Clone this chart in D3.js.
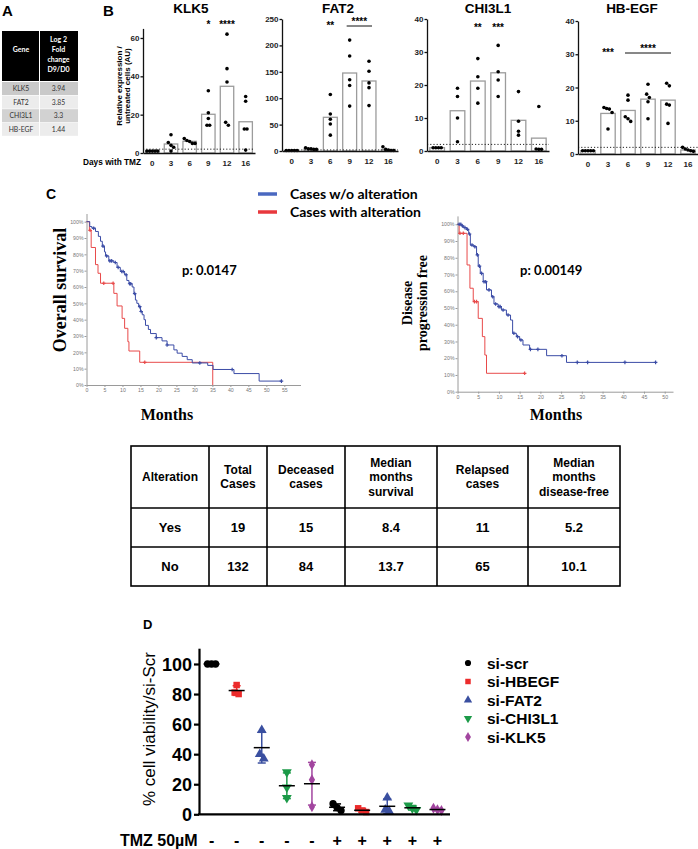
<!DOCTYPE html>
<html>
<head>
<meta charset="utf-8">
<script src="https://cdn.jsdelivr.net/npm/d3@7"></script>
<style>
  body { margin: 0; background: #fff; }
  svg { display: block; }
</style>
</head>
<body>
<svg id="fig" width="698" height="849"></svg>
<script>
// ---- panel A
const geneNames = ['KLK5', 'FAT2', 'CHI3L1', 'HB-EGF'];
const log2Fold = ['3.94', '3.85', '3.3', '1.44'];

// ---- panel B
const days = ['0', '3', '6', '9', '12', '16'];
const klk5Mean = [1, 4.7, 6.1, 20.2, 34.8, 16.3];
const klk5Reps = [[1, 1, 1, 1, 1], [9.5, 5.5, 4, 3, 1], [7.5, 6.5, 6, 5, 5], [32.5, 21, 18, 14.5, 14.5], [62, 44, 37, 16, 14.5], [29.5, 27, 12.5, 12.5, 1.5]];
const fat2Mean = [1, 4, 63.8, 147.7, 132.6, 3];
const fat2Reps = [[1, 1, 1, 1, 1], [6, 4, 3, 3, 4], [107, 70, 60, 51, 30], [210, 180, 135, 124, 85], [170, 151, 129, 120, 86], [8, 3, 2, 1, 1]];
const chi3l1Mean = [1, 12.2, 21.2, 23.7, 9.3, 3.9];
const chi3l1Reps = [[1, 1, 1, 1], [19, 16.5, 10, 2.8], [28, 22.5, 19, 14.5], [32, 24, 21.5, 16.5], [18, 9, 6, 4.8], [13.5, 0.6, 0.5, 0.5]];
const hbegfMean = [1, 12.2, 13.1, 16.5, 16.2, 1.2];
const hbegfReps = [[1, 1, 1, 1, 1], [14, 13.5, 13.7, 12.5, 7.5], [17.7, 16.2, 11.2, 9.8, 10.6], [21, 18, 17, 15.7, 10.6], [21.3, 20.5, 15, 14.7, 9.2], [2, 1.5, 1, 0.8, 1.2]];
const klk5Sig = [{ from: '9', to: '9', label: '*' }, { from: '12', to: '12', label: '****' }];
const fat2Sig = [{ from: '6', to: '6', label: '**' }, { from: '9', to: '12', label: '****' }];
const chi3l1Sig = [{ from: '6', to: '6', label: '**' }, { from: '9', to: '9', label: '***' }];
const hbegfSig = [{ from: '3', to: '3', label: '***' }, { from: '6', to: '12', label: '****' }];

// ---- panel C (months, % surviving)
const osNoAlt = [[0, 100], [0.9, 97], [1.5, 96], [2.5, 94], [3.3, 91], [3.9, 88], [4.4, 85], [5, 81.5], [5.3, 79], [6.2, 76], [7.6, 75], [8.5, 72], [9.4, 69.5], [10.6, 67.5], [11.2, 64], [11.8, 62], [12.7, 60], [13.2, 56], [13.6, 52], [14, 50], [14.5, 48], [15, 45], [15.5, 43], [16, 40], [16.4, 36.5], [17.2, 34], [17.8, 31.5], [19.4, 29], [21, 27], [22.4, 24.5], [24.3, 21.5], [25.2, 19.5], [26.6, 17.5], [28, 15.5], [29.4, 13.5], [33.7, 12], [35.2, 9.5], [41, 7], [48, 2.4], [54.2, 2.4]];
const osNoAltCensor = [2, 4.6, 5.6, 6.5, 7, 8, 8.8, 9.8, 10.2, 11, 12, 12.3, 13.4, 14.8, 15.2, 19.4, 22.4, 31.5, 40.5, 54.2];
const osAlt = [[0, 100], [0.8, 94.7], [1.3, 84.2], [2.5, 73.7], [3.2, 68.4], [3.9, 62.3], [7.6, 56.1], [8.5, 48.4], [9.9, 40.8], [10.6, 34.7], [11.5, 26.5], [11.8, 20.8], [14.8, 13.9], [35.1, 0]];
const osAltCensor = [1.0, 4.8, 7.4, 16.2];
const dfsNoAlt = [[0, 100], [1, 99], [1.5, 98], [2.2, 97], [2.7, 94.2], [3.1, 87.6], [4, 86.6], [4.6, 81.7], [5, 75], [5.5, 70.7], [6.2, 65.7], [7, 60.8], [8.2, 56.7], [8.8, 52.4], [9.8, 50.8], [10.6, 48.8], [11.8, 45.8], [12.8, 42.8], [13.3, 34.9], [14.2, 32.9], [15, 30.9], [15.8, 27.9], [17.4, 25.3], [21.5, 21.5], [26.3, 17.5], [47.8, 17.5]];
const dfsNoAltCensor = [0.4, 0.8, 1.2, 1.8, 2.4, 2.9, 3.5, 4.2, 4.8, 5.3, 5.8, 6.4, 6.8, 7.6, 8.5, 9.2, 10, 10.3, 11, 12.2, 13.6, 14.5, 15.3, 17.6, 19.4, 25.2, 28.9, 31.4, 40.4, 47.8];
const dfsAlt = [[0, 100], [0.4, 94.6], [2.3, 75.7], [3, 61.8], [3.8, 53.8], [5, 43.8], [6, 32.9], [6.6, 21.9], [7, 11], [16.2, 11]];
const dfsAltCensor = [0.6, 1.4, 4.1, 4.6, 16.2];
const tableHeader = [['Alteration'], ['Total', 'Cases'], ['Deceased', 'cases'], ['Median', 'months', 'survival'], ['Relapsed', 'cases'], ['Median', 'months', 'disease-free']];
const tableRows = [['Yes', '19', '15', '8.4', '11', '5.2'], ['No', '132', '84', '13.7', '65', '10.1']];

// ---- panel D
const siNames = ['si-scr', 'si-HBEGF', 'si-FAT2', 'si-CHI3L1', 'si-KLK5'];
const viabNoTmz = [[100, 100, 100], [86, 81, 80], [56, 40, 37], [28, 18, 11], [33, 23, 5]];
const viabTmz = [[7, 4.5, 2.5], [4, 2.5, 1.5], [11, 3, 2], [6, 4, 3], [4, 3, 2.5]];
const tmzLabels = ['-', '-', '-', '-', '-', '+', '+', '+', '+', '+'];
const yTicksD = [0, 20, 40, 60, 80, 100];

const svg = d3.select('#fig');
svg.append('rect').attr('width', 698).attr('height', 849).attr('fill', '#fff');

const SANS = '"Liberation Sans", Arial, sans-serif';
const CAL = 'Lato, "Open Sans", sans-serif';
const SERIF = '"Liberation Serif", "Times New Roman", serif';

const txt = (g, x, y, s, size, o = {}) => g.append('text')
  .attr('x', x).attr('y', y).text(s)
  .attr('font-family', o.family || SANS)
  .attr('font-size', size)
  .attr('font-weight', o.weight || 'bold')
  .attr('text-anchor', o.anchor || 'start')
  .attr('fill', o.fill || '#000')
  .attr('transform', o.rotate ? `rotate(-90,${x},${y})` : null);

// spread points with (nearly) equal y side by side, like a scatter column
function spread(vals, y, cx, gap, step) {
  const pts = vals.map(v => ({ py: y(v) })).sort((a, b) => a.py - b.py);
  const clusters = [];
  pts.forEach(p => {
    const last = clusters[clusters.length - 1];
    if (last && p.py - last[last.length - 1].py < gap) last.push(p);
    else clusters.push([p]);
  });
  clusters.forEach(cl => cl.forEach((p, k) => { p.px = cx + (k - (cl.length - 1) / 2) * step; }));
  return pts;
}

// ================= A
txt(svg, 2, 16, 'A', 15);
const gA = svg.append('g');
gA.append('rect').attr('x', 2).attr('y', 31).attr('width', 76).attr('height', 50).attr('fill', '#000');
gA.append('line').attr('x1', 39.5).attr('x2', 39.5).attr('y1', 31).attr('y2', 81).attr('stroke', '#fff').attr('stroke-width', 1);
txt(gA, 21, 52, 'Gene', 7, { family: CAL, anchor: 'middle', fill: '#fff' });
['Log 2', 'Fold', 'change', 'D9/D0'].forEach((s, i) =>
  txt(gA, 58.5, 42 + i * 10, s, 7, { family: CAL, anchor: 'middle', fill: '#fff' }));
const rowFill = ['#c9c9c9', '#ececec', '#d2d2d2', '#ececec'];
geneNames.forEach((gname, i) => {
  const y0 = 82 + i * 13.6;
  gA.append('rect').attr('x', 2).attr('y', y0).attr('width', 37).attr('height', 13).attr('fill', rowFill[i]);
  gA.append('rect').attr('x', 40).attr('y', y0).attr('width', 38).attr('height', 13).attr('fill', rowFill[i]);
  txt(gA, 21, y0 + 9, gname, 6.8, { family: CAL, anchor: 'middle', fill: '#333', weight: 'normal' });
  txt(gA, 58.5, y0 + 9, log2Fold[i], 6.8, { family: CAL, anchor: 'middle', fill: '#333', weight: 'normal' });
});

// ================= B
txt(svg, 103, 16, 'B', 15);
txt(svg, 83, 165, 'Days with TMZ', 8.3);
txt(svg, 121.5, 86, 'Relative expression /', 8, { anchor: 'middle', rotate: true });
txt(svg, 130, 86, 'untreated cells (AU)', 8, { anchor: 'middle', rotate: true });

function drawExpr(cfg) {
  const x = d3.scaleBand().domain(days).range(cfg.xr);
  const y = d3.scaleLinear().domain([0, cfg.yMax]).range(cfg.yr);
  const g = svg.append('g');
  const cx = d => x(d) + x.bandwidth() / 2;

  g.selectAll('rect').data(cfg.means).enter().append('rect')
    .attr('x', (d, i) => cx(days[i]) - x.bandwidth() * 0.36)
    .attr('width', x.bandwidth() * 0.72)
    .attr('y', d => y(d))
    .attr('height', d => y(0) - y(d))
    .attr('fill', '#fff').attr('stroke', '#9c9c9c').attr('stroke-width', 1.3);

  g.append('line')
    .attr('x1', cfg.xr[0]).attr('x2', cfg.xr[1])
    .attr('y1', y(2)).attr('y2', y(2))
    .attr('stroke', '#222').attr('stroke-width', 1).attr('stroke-dasharray', '1.2,2');

  cfg.reps.forEach((vals, i) => {
    const pts = spread(vals, y, cx(days[i]), 3.4, 2.7);
    g.selectAll(null).data(pts).enter().append('circle')
      .attr('cx', d => d.px).attr('cy', d => d.py).attr('r', 1.8).attr('fill', '#000');
  });

  const yAx = g.append('g').attr('transform', `translate(${cfg.xr[0]},0)`)
    .call(d3.axisLeft(y).tickValues(cfg.ticks).tickSize(2.5).tickSizeOuter(0).tickPadding(1));
  const xAx = g.append('g').attr('transform', `translate(0,${y(0)})`)
    .call(d3.axisBottom(x).tickSize(0).tickSizeOuter(0).tickPadding(7));
  [yAx, xAx].forEach(a => {
    a.attr('font-family', SANS).attr('font-size', 8).attr('font-weight', 'bold');
    a.selectAll('path, line').attr('stroke', '#111').attr('stroke-width', 1.3);
    a.selectAll('text').attr('fill', '#222');
  });

  cfg.sig.forEach(s => {
    const x0 = cx(s.from), x1 = cx(s.to);
    if (s.from !== s.to) {
      g.append('line').attr('x1', x0 - 3).attr('x2', x1 + 3)
        .attr('y1', cfg.sigY + 2).attr('y2', cfg.sigY + 2)
        .attr('stroke', '#111').attr('stroke-width', 1);
      txt(g, (x0 + x1) / 2, cfg.sigY + 1, s.label, 10, { anchor: 'middle' });
    } else {
      txt(g, x0, cfg.sigY + 5, s.label, 10, { anchor: 'middle' });
    }
  });

  txt(g, cfg.titleX, 13, cfg.title, 13.5, { anchor: 'middle' });
}

drawExpr({ title: 'KLK5', titleX: 191, means: klk5Mean, reps: klk5Reps, yMax: 65, ticks: [0, 20, 40, 60],
  xr: [143, 255], yr: [153, 28.4], sig: klk5Sig, sigY: 23 });
drawExpr({ title: 'FAT2', titleX: 338, means: fat2Mean, reps: fat2Reps, yMax: 250, ticks: [0, 50, 100, 150, 200, 250],
  xr: [282, 398], yr: [151, 19], sig: fat2Sig, sigY: 24 });
drawExpr({ title: 'CHI3L1', titleX: 488, means: chi3l1Mean, reps: chi3l1Reps, yMax: 40, ticks: [0, 10, 20, 30, 40],
  xr: [427, 549], yr: [151, 19], sig: chi3l1Sig, sigY: 26 });
drawExpr({ title: 'HB-EGF', titleX: 632, means: hbegfMean, reps: hbegfReps, yMax: 40, ticks: [0, 10, 20, 30, 40],
  xr: [578, 698], yr: [154, 21], sig: hbegfSig, sigY: 51 });

// ================= C
txt(svg, 46, 199, 'C', 14);
const legC = [['Cases w/o alteration', '#4a68c0'], ['Cases with alteration', '#e8383d']];
legC.forEach((d, i) => {
  const yy = 194 + i * 18;
  svg.append('line').attr('x1', 258).attr('x2', 277).attr('y1', yy).attr('y2', yy)
    .attr('stroke', d[1]).attr('stroke-width', 3.5);
  txt(svg, 290, yy + 5, d[0], 14, { family: CAL });
});

function drawKM(cfg) {
  const x = d3.scaleLinear().domain([0, cfg.xMax]).range(cfg.xr);
  const y = d3.scaleLinear().domain([0, 105]).range(cfg.yr);
  const g = svg.append('g');
  const yAx = g.append('g').attr('transform', `translate(${cfg.xr[0]},0)`)
    .call(d3.axisLeft(y).tickValues(d3.range(0, 101, 10)).tickFormat(d => d + '%').tickSize(2).tickSizeOuter(0).tickPadding(1));
  const xAx = g.append('g').attr('transform', `translate(0,${cfg.yr[0]})`)
    .call(d3.axisBottom(x).tickValues(cfg.xTicks).tickSize(2).tickSizeOuter(0).tickPadding(1.5));
  [yAx, xAx].forEach(a => {
    a.attr('font-family', SANS).attr('font-size', 5.2);
    a.selectAll('path, line').attr('stroke', '#9a9a9a');
    a.selectAll('text').attr('fill', '#777');
  });
  const line = d3.line().x(d => x(d[0])).y(d => y(d[1])).curve(d3.curveStepAfter);
  cfg.curves.forEach(c => {
    g.append('path').datum(c.steps).attr('d', line)
      .attr('fill', 'none').attr('stroke', c.color).attr('stroke-width', 1);
    const survAt = t => { let s = 100; c.steps.forEach(p => { if (p[0] <= t) s = p[1]; }); return s; };
    g.selectAll(null).data(c.censor).enter().append('path')
      .attr('d', t => `M${x(t) - 1.8},${y(survAt(t))}h3.6M${x(t)},${y(survAt(t)) - 1.8}v3.6`)
      .attr('stroke', c.color).attr('stroke-width', 1.2);
  });
}

drawKM({ xMax: 59.5, xr: [86.5, 300.5], yr: [385, 213.5], xTicks: d3.range(0, 56, 5), curves: [
  { steps: osAlt, censor: osAltCensor, color: '#e84a4a' },
  { steps: osNoAlt, censor: osNoAltCensor, color: '#3b4ca6' }
] });
drawKM({ xMax: 52, xr: [457.5, 673], yr: [391.7, 215.9], xTicks: d3.range(0, 51, 5), curves: [
  { steps: dfsAlt, censor: dfsAltCensor, color: '#e84a4a' },
  { steps: dfsNoAlt, censor: dfsNoAltCensor, color: '#3b4ca6' }
] });

txt(svg, 66, 290, 'Overall survival', 18, { family: SERIF, anchor: 'middle', rotate: true });
txt(svg, 412, 303, 'Disease', 14, { family: SERIF, anchor: 'middle', rotate: true });
txt(svg, 427, 303, 'progression free', 14, { family: SERIF, anchor: 'middle', rotate: true });
txt(svg, 167, 420, 'Months', 16, { family: SERIF, anchor: 'middle' });
txt(svg, 556, 420, 'Months', 16, { family: SERIF, anchor: 'middle' });
txt(svg, 182, 275, 'p: 0.0147', 13, { family: CAL });
txt(svg, 520, 275, 'p: 0.00149', 13, { family: CAL });

// table
const colEdges = [131, 209, 267, 345, 437, 528, 620];
const rowEdges = [446, 508, 547, 586];
const gT = svg.append('g');
gT.append('rect').attr('x', colEdges[0]).attr('y', rowEdges[0])
  .attr('width', colEdges[6] - colEdges[0]).attr('height', rowEdges[3] - rowEdges[0])
  .attr('fill', 'none').attr('stroke', '#000').attr('stroke-width', 1.6);
colEdges.slice(1, -1).forEach(cx => gT.append('line').attr('x1', cx).attr('x2', cx)
  .attr('y1', rowEdges[0]).attr('y2', rowEdges[3]).attr('stroke', '#000').attr('stroke-width', 1.6));
rowEdges.slice(1, -1).forEach(ry => gT.append('line').attr('y1', ry).attr('y2', ry)
  .attr('x1', colEdges[0]).attr('x2', colEdges[6]).attr('stroke', '#000').attr('stroke-width', 1.6));
tableHeader.forEach((lines, c) => {
  const mx = (colEdges[c] + colEdges[c + 1]) / 2;
  const my = (rowEdges[0] + rowEdges[1]) / 2;
  lines.forEach((s, k) => txt(gT, mx, my + 4.3 + (k - (lines.length - 1) / 2) * 14.3, s, 12, { anchor: 'middle' }));
});
tableRows.forEach((row, r) => {
  const my = (rowEdges[r + 1] + rowEdges[r + 2]) / 2;
  row.forEach((s, c) => txt(gT, (colEdges[c] + colEdges[c + 1]) / 2, my + 4.8, s, 13, { anchor: 'middle' }));
});

// ================= D
txt(svg, 143, 629, 'D', 13);
const siColors = ['#000000', '#ec2b2b', '#3a4fa0', '#1c9a48', '#a2459f'];
const siSymbols = [
  { type: d3.symbolCircle, rot: 0 }, { type: d3.symbolSquare, rot: 0 },
  { type: d3.symbolTriangle, rot: 0 }, { type: d3.symbolTriangle, rot: 180 },
  { type: d3.symbolDiamond, rot: 0 }
];
const groupsD = viabNoTmz.map((v, i) => ({ s: i, vals: v })).concat(viabTmz.map((v, i) => ({ s: i, vals: v })));
const xD = d3.scaleBand().domain(d3.range(groupsD.length)).range([199, 450]);
const yD = d3.scaleLinear().domain([0, 110.5]).range([814.3, 648.2]);
const gD = svg.append('g');

groupsD.forEach((grp, i) => {
  const c = xD(i) + xD.bandwidth() / 2;
  const col = siColors[grp.s];
  const m = d3.mean(grp.vals), sd = d3.deviation(grp.vals);
  const pts = spread(grp.vals, yD, c, 6, 4);
  const sym = siSymbols[grp.s];
  gD.selectAll(null).data(pts).enter().append('path')
    .attr('d', d3.symbol().type(sym.type).size(sym.type === d3.symbolDiamond ? 34 : 42))
    .attr('transform', d => `translate(${d.px},${d.py}) rotate(${sym.rot})`)
    .attr('fill', col);
  gD.append('line').attr('x1', c).attr('x2', c).attr('y1', yD(m - sd)).attr('y2', yD(m + sd))
    .attr('stroke', col).attr('stroke-width', 1.5);
  [m - sd, m + sd].forEach(v => gD.append('line').attr('x1', c - 4).attr('x2', c + 4)
    .attr('y1', yD(v)).attr('y2', yD(v)).attr('stroke', col).attr('stroke-width', 1.5));
  gD.append('line').attr('x1', c - 8).attr('x2', c + 8).attr('y1', yD(m)).attr('y2', yD(m))
    .attr('stroke', '#000').attr('stroke-width', 1.5);
  txt(gD, c, 846, tmzLabels[i], 16, { anchor: 'middle' });
});

const yAxD = gD.append('g').attr('transform', 'translate(199,0)')
  .call(d3.axisLeft(yD).tickValues(yTicksD).tickSize(5).tickSizeOuter(0).tickPadding(2));
yAxD.attr('font-family', SANS).attr('font-size', 18).attr('font-weight', 'bold');
yAxD.selectAll('path, line').attr('stroke', '#000').attr('stroke-width', 2.2);
yAxD.selectAll('text').attr('fill', '#000').attr('dy', '0.34em');
gD.append('line').attr('x1', 198).attr('x2', 450).attr('y1', yD(0)).attr('y2', yD(0))
  .attr('stroke', '#000').attr('stroke-width', 2.2);
txt(gD, 155, 729, '% cell viability/si-Scr', 17, { anchor: 'middle', rotate: true, weight: 'normal' });
txt(gD, 120, 846, 'TMZ 50µM', 16);

siNames.forEach((name, i) => {
  const yy = 663 + i * 18.5;
  const sym = siSymbols[i];
  gD.append('path').attr('d', d3.symbol().type(sym.type).size(30))
    .attr('transform', `translate(468,${yy}) rotate(${sym.rot})`).attr('fill', siColors[i]);
  txt(gD, 487, yy + 5.5, name, 15.5);
});
</script>
</body>
</html>
